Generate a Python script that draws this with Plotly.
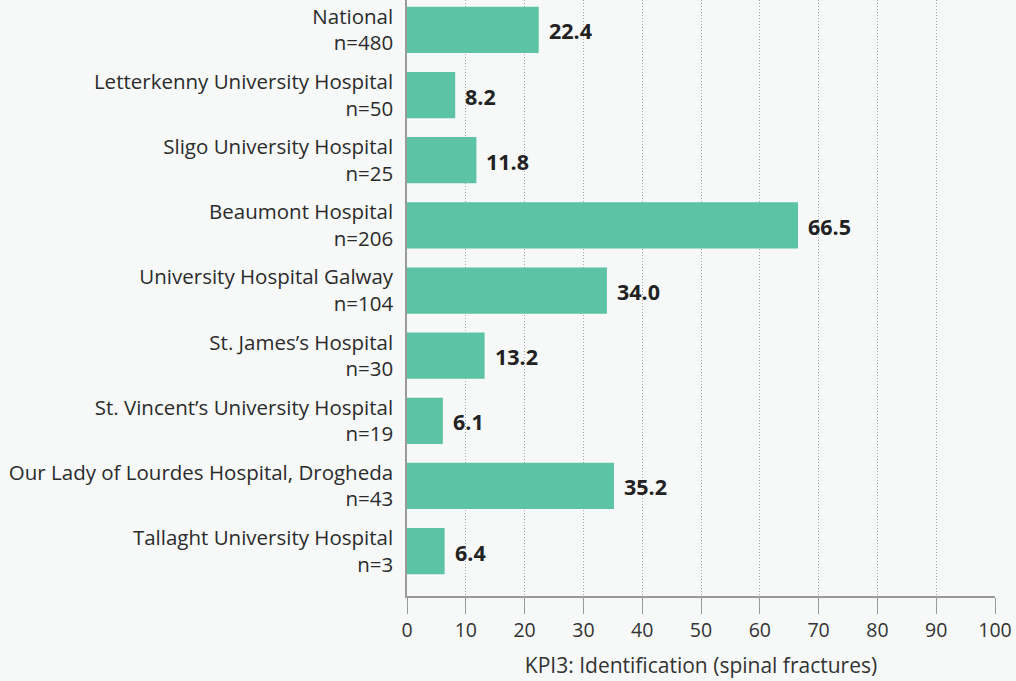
import plotly.graph_objects as go

hospitals = ["National", "Letterkenny University Hospital", "Sligo University Hospital",
             "Beaumont Hospital", "University Hospital Galway", "St. James’s Hospital",
             "St. Vincent’s University Hospital", "Our Lady of Lourdes Hospital, Drogheda",
             "Tallaght University Hospital"]
n_values = [480, 50, 25, 206, 104, 30, 19, 43, 3]
kpi3 = [22.4, 8.2, 11.8, 66.5, 34.0, 13.2, 6.1, 35.2, 6.4]
x_ticks = list(range(0, 101, 10))

labels = [f"{h}<br>n={n}" for h, n in zip(hospitals, n_values)]
idx = list(range(len(labels)))

FONT = "Open Sans"
BG = "#f6f9f8"
fig = go.Figure()
fig.add_trace(go.Bar(
    x=kpi3, y=idx, orientation="h", width=0.71,
    marker=dict(color="#5dc3a5", line=dict(width=0)),
    hoverinfo="skip",
))
for i, v in zip(idx, kpi3):
    fig.add_annotation(x=v, y=i, text=f"<b>{v:.1f}</b>", showarrow=False,
                       xanchor="left", yanchor="middle", xshift=8, yshift=-1,
                       font=dict(family=FONT, size=21.5, color="#222222"))

fig.update_layout(
    width=1016, height=681,
    margin=dict(l=407, r=21, t=0, b=85),
    paper_bgcolor=BG, plot_bgcolor=BG,
    showlegend=False,
    font=dict(family=FONT, color="#2b2b2b"),
    xaxis=dict(range=[0, 100], tickvals=x_ticks, showgrid=True,
               gridcolor="#a8a8a8", griddash="1px,2px", gridwidth=1,
               ticks="outside", ticklen=16, tickcolor="#9a9a9a",
               showline=True, linecolor="#9a9a9a", linewidth=1.5,
               zeroline=False, tickfont=dict(size=19.5, color="#333333"),
               title=dict(text="KPI3: Identification (spinal fractures)",
                          font=dict(size=21, color="#333333"), standoff=16)),
    yaxis=dict(range=[8.69, -0.46], tickvals=idx, ticktext=labels,
               showgrid=False, zeroline=False, showline=True,
               linecolor="#9a9a9a", linewidth=1.5, ticks="",
               ticklabelstandoff=8,
               tickfont=dict(size=20.5, color="#2b2b2b")),
)
fig.write_html("out.html", config={"displayModeBar": False},
               post_script=f"document.body.style.margin='0';document.body.style.background='{BG}';")
